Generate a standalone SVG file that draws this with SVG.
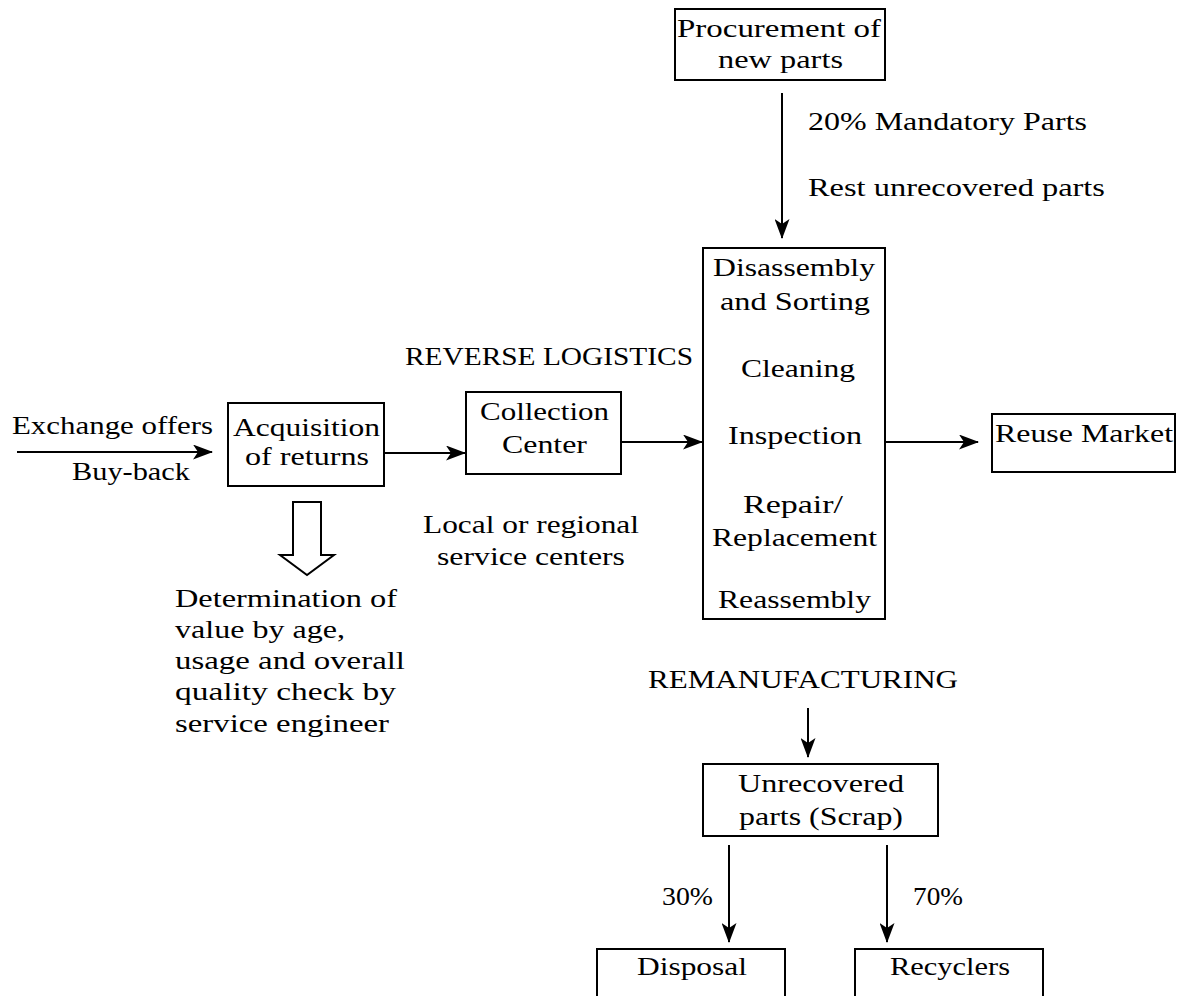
<svg xmlns="http://www.w3.org/2000/svg" width="1187" height="996" viewBox="0 0 1187 996">
<style>
.box{fill:#fff;stroke:#000;stroke-width:2}
.ln{fill:none;stroke:#000;stroke-width:2;marker-end:url(#ah)}
text{font-family:"Liberation Serif","Times New Roman",serif;font-size:26px;fill:#000}
</style>
<defs>
<marker id="ah" markerUnits="userSpaceOnUse" viewBox="0 0 20 15" refX="19" refY="7.5" markerWidth="20" markerHeight="15" orient="auto">
<path d="M0,0 L20,7.5 L0,15 L5,7.5 Z" fill="#000"/>
</marker>
</defs>
<rect width="1187" height="996" fill="#fff"/>
<g id="connectors">
<line class="ln" x1="17" y1="452" x2="212" y2="452"/>
<line class="ln" x1="385" y1="453" x2="465" y2="453"/>
<line class="ln" x1="622" y1="442" x2="702" y2="442"/>
<line class="ln" x1="886" y1="442" x2="978" y2="442"/>
<line class="ln" x1="782" y1="93" x2="782" y2="238"/>
<line class="ln" x1="808" y1="708" x2="808" y2="757"/>
<line class="ln" x1="729" y1="845" x2="729" y2="942"/>
<line class="ln" x1="887" y1="845" x2="887" y2="942"/>
<polygon points="293,502 321,502 321,555 334,555 307,575 280,555 293,555" fill="#fff" stroke="#000" stroke-width="2" stroke-linejoin="miter"/>
</g>
<g id="labels">
<text x="12" y="434" textLength="201" lengthAdjust="spacingAndGlyphs">Exchange offers</text>
<text x="72" y="480" textLength="118" lengthAdjust="spacingAndGlyphs">Buy-back</text>
<text x="808" y="130" textLength="279" lengthAdjust="spacingAndGlyphs">20% Mandatory Parts</text>
<text x="808" y="196" textLength="297" lengthAdjust="spacingAndGlyphs">Rest unrecovered parts</text>
<text x="405" y="365" textLength="288" lengthAdjust="spacingAndGlyphs">REVERSE LOGISTICS</text>
<text x="423" y="533" textLength="216" lengthAdjust="spacingAndGlyphs">Local or regional</text>
<text x="437" y="565" textLength="188" lengthAdjust="spacingAndGlyphs">service centers</text>
<text x="175" y="607" textLength="222" lengthAdjust="spacingAndGlyphs">Determination of</text>
<text x="175" y="638" textLength="170" lengthAdjust="spacingAndGlyphs">value by age,</text>
<text x="175" y="669" textLength="230" lengthAdjust="spacingAndGlyphs">usage and overall</text>
<text x="175" y="700" textLength="221" lengthAdjust="spacingAndGlyphs">quality check by</text>
<text x="175" y="732" textLength="214" lengthAdjust="spacingAndGlyphs">service engineer</text>
<text x="648" y="688" textLength="310" lengthAdjust="spacingAndGlyphs">REMANUFACTURING</text>
<text x="662" y="905" textLength="51" lengthAdjust="spacingAndGlyphs">30%</text>
<text x="913" y="905" textLength="50" lengthAdjust="spacingAndGlyphs">70%</text>
</g>
<g id="procurement">
<rect class="box" x="675" y="9" width="210" height="71"/>
<text x="677" y="37" textLength="204" lengthAdjust="spacingAndGlyphs">Procurement of</text>
<text x="718" y="68" textLength="125" lengthAdjust="spacingAndGlyphs">new parts</text>
</g>
<g id="remanufacturing">
<rect class="box" x="703" y="248" width="182" height="371"/>
<text x="713" y="276" textLength="162" lengthAdjust="spacingAndGlyphs">Disassembly</text>
<text x="720" y="310" textLength="150" lengthAdjust="spacingAndGlyphs">and Sorting</text>
<text x="741" y="377" textLength="114" lengthAdjust="spacingAndGlyphs">Cleaning</text>
<text x="728" y="444" textLength="134" lengthAdjust="spacingAndGlyphs">Inspection</text>
<text x="743" y="513" textLength="100" lengthAdjust="spacingAndGlyphs">Repair/</text>
<text x="712" y="546" textLength="165" lengthAdjust="spacingAndGlyphs">Replacement</text>
<text x="718" y="608" textLength="153" lengthAdjust="spacingAndGlyphs">Reassembly</text>
</g>
<g id="acquisition">
<rect class="box" x="228" y="403" width="156" height="83"/>
<text x="233" y="436" textLength="147" lengthAdjust="spacingAndGlyphs">Acquisition</text>
<text x="245" y="465" textLength="124" lengthAdjust="spacingAndGlyphs">of returns</text>
</g>
<g id="collection">
<rect class="box" x="466" y="392" width="155" height="82"/>
<text x="480" y="420" textLength="129" lengthAdjust="spacingAndGlyphs">Collection</text>
<text x="502" y="453" textLength="85" lengthAdjust="spacingAndGlyphs">Center</text>
</g>
<g id="reuse">
<rect class="box" x="992" y="414" width="183" height="58"/>
<text x="995" y="442" textLength="178" lengthAdjust="spacingAndGlyphs">Reuse Market</text>
</g>
<g id="unrecovered">
<rect class="box" x="703" y="764" width="235" height="72"/>
<text x="738" y="792" textLength="166" lengthAdjust="spacingAndGlyphs">Unrecovered</text>
<text x="739" y="825" textLength="164" lengthAdjust="spacingAndGlyphs">parts (Scrap)</text>
</g>
<g id="disposal">
<rect class="box" x="597" y="949" width="188" height="60"/>
<text x="637" y="975" textLength="110" lengthAdjust="spacingAndGlyphs">Disposal</text>
</g>
<g id="recyclers">
<rect class="box" x="855" y="949" width="188" height="60"/>
<text x="890" y="975" textLength="120" lengthAdjust="spacingAndGlyphs">Recyclers</text>
</g>
</svg>
